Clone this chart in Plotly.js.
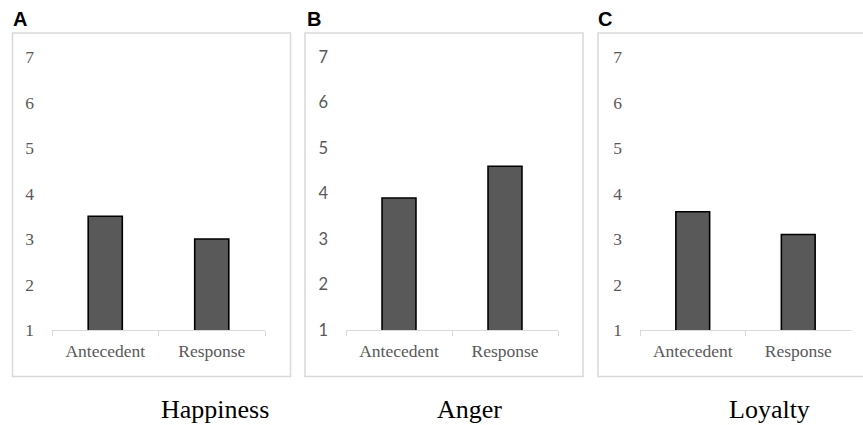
<!DOCTYPE html>
<html>
<head>
<meta charset="utf-8">
<script src="https://cdn.plot.ly/plotly-3.0.1.min.js"></script>
<style>html,body{margin:0;padding:0;background:#fff;}#chart{width:863px;height:425px;}</style>
</head>
<body>
<div id="chart"></div>
<script>
const categories = ['Antecedent', 'Response'];
const happiness = [3.5, 3.0];
const anger = [3.9, 4.6];
const loyalty = [3.6, 3.1];
const panelTitles = ['Happiness', 'Anger', 'Loyalty'];
const panelLetters = ['A', 'B', 'C'];
const yTicks = [1, 2, 3, 4, 5, 6, 7];

const W = 863, H = 425;
const px = v => v / W;
const py = v => 1 - v / H;

const series = [happiness, anger, loyalty];
const plotX = [[52, 265], [346, 558], [640, 851]];
const boxX = [[12.5, 290.5], [305, 583], [598, 880]];
const letterX = [11, 305, 596];
const titleX = [214.5, 469.7, 769.7];
const tickFonts = [
  {family: 'Liberation Serif, Times New Roman, serif', size: 17.5, color: '#595959'},
  {family: 'Lato, Liberation Sans, sans-serif', size: 16.5, color: '#595959'},
  {family: 'Liberation Serif, Times New Roman, serif', size: 17.5, color: '#595959'}
];

const traces = series.map((vals, i) => ({
  type: 'bar',
  x: categories,
  y: vals,
  xaxis: i === 0 ? 'x' : 'x' + (i + 1),
  yaxis: i === 0 ? 'y' : 'y' + (i + 1),
  width: 0.32,
  marker: {color: '#595959', line: {color: '#000000', width: 1.6}},
  showlegend: false,
  hoverinfo: 'skip'
}));

const layout = {
  width: W, height: H, autosize: false,
  margin: {l: 0, r: 0, t: 0, b: 0, pad: 0},
  paper_bgcolor: '#ffffff', plot_bgcolor: 'rgba(0,0,0,0)',
  shapes: [], annotations: []
};

for (let i = 0; i < 3; i++) {
  const s = i === 0 ? '' : String(i + 1);
  layout['xaxis' + s] = {
    domain: [px(plotX[i][0]), px(plotX[i][1])],
    anchor: 'y' + s,
    type: 'category',
    range: [-0.5, 1.5],
    showline: true, linecolor: '#d9d9d9', linewidth: 1,
    ticks: 'outside', tickson: 'boundaries', ticklen: 5, tickcolor: '#d9d9d9', tickwidth: 1,
    ticklabelstandoff: 5,
    showgrid: false, zeroline: false,
    tickfont: {family: 'Liberation Serif, Times New Roman, serif', size: 17.5, color: '#595959'},
    fixedrange: true
  };
  layout['yaxis' + s] = {
    domain: [py(330), py(57)],
    anchor: 'x' + s,
    range: [1, 7],
    tickmode: 'array', tickvals: yTicks, ticktext: yTicks.map(String),
    showline: false, showgrid: false, zeroline: false, ticks: '',
    ticklabelstandoff: 17,
    tickfont: tickFonts[i],
    fixedrange: true
  };
  layout.shapes.push({
    type: 'rect', xref: 'paper', yref: 'paper',
    x0: px(boxX[i][0]), x1: px(boxX[i][1]), y0: py(376.5), y1: py(33),
    line: {color: '#d9d9d9', width: 1.5}, fillcolor: 'rgba(0,0,0,0)', layer: 'below'
  });
  layout.annotations.push({
    xref: 'paper', yref: 'paper', x: px(letterX[i]), y: py(19), xanchor: 'left', yanchor: 'middle',
    text: '<b>' + panelLetters[i] + '</b>', showarrow: false,
    font: {family: 'Liberation Sans, Arial, sans-serif', size: 20, color: '#000000'}
  });
  layout.annotations.push({
    xref: 'paper', yref: 'paper', x: px(titleX[i]), y: py(409), xanchor: 'center', yanchor: 'middle',
    text: panelTitles[i], showarrow: false,
    font: {family: 'Liberation Serif, Times New Roman, serif', size: 26, color: '#000000'}
  });
}

Plotly.newPlot('chart', traces, layout, {staticPlot: true, displayModeBar: false});
</script>
</body>
</html>
